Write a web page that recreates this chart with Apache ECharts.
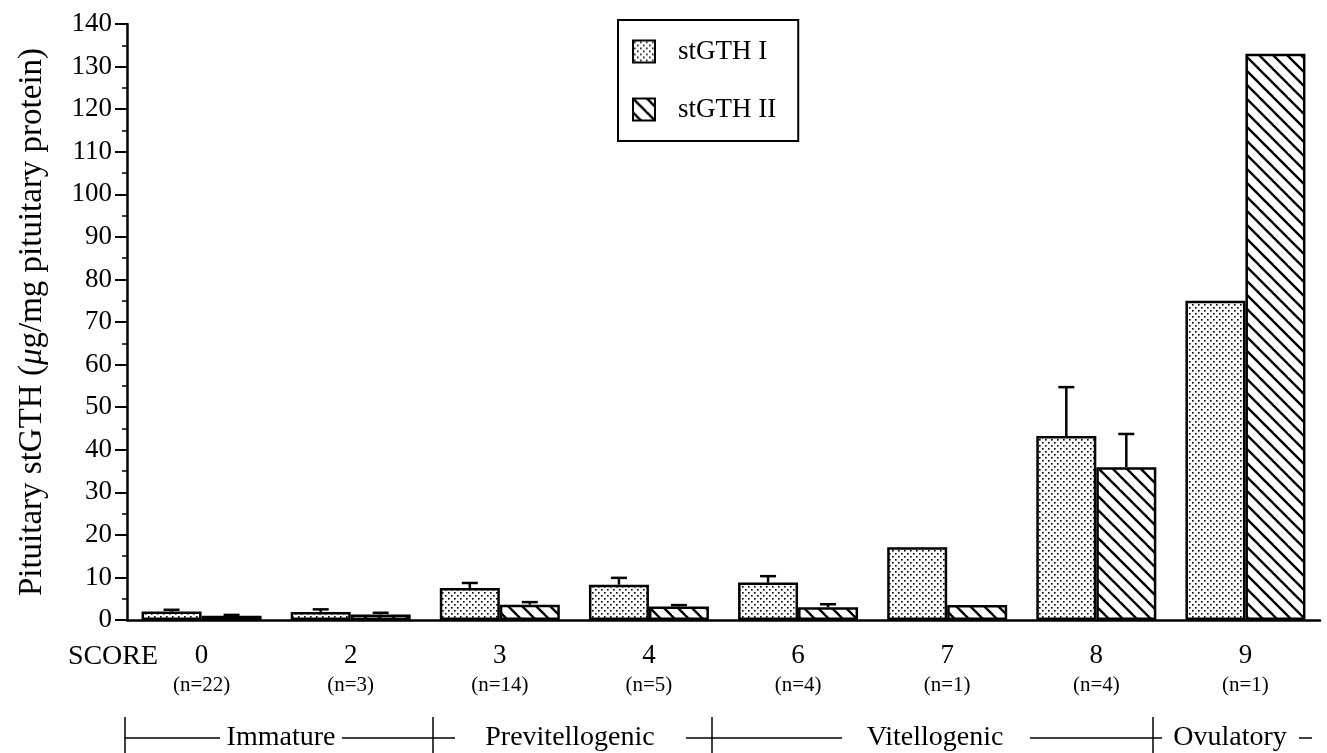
<!DOCTYPE html>
<html>
<head>
<meta charset="utf-8">
<script src="https://cdn.jsdelivr.net/npm/echarts@6/dist/echarts.min.js"></script>
<style>
  html, body { margin: 0; padding: 0; background: #fff; }
  #chart { width: 1327px; height: 753px; }
</style>
</head>
<body>
<div id="chart"></div>
<script>
// ---- data ----
const scores = ['0', '2', '3', '4', '6', '7', '8', '9'];
const nCounts = ['22', '3', '14', '5', '4', '1', '4', '1'];
const stgth1 = [2.0, 1.9, 7.5, 8.3, 8.8, 17.1, 43.2, 75.0];
const stgth1Err = [0.4, 0.6, 1.2, 1.6, 1.5, 0, 11.5, 0];
const stgth2 = [1.0, 1.3, 3.6, 3.2, 3.0, 3.5, 35.9, 133.0];
const stgth2Err = [0.2, 0.4, 0.6, 0.3, 0.7, 0, 7.8, 0];
const seriesNames = ['stGTH I', 'stGTH II'];
const stages = ['Immature', 'Previtellogenic', 'Vitellogenic', 'Ovulatory'];
const yMin = 0, yMax = 140, yStep = 10;

// ---- patterns ----
function stipple() {
  const c = document.createElement('canvas');
  c.width = 6; c.height = 6;
  const g = c.getContext('2d');
  g.fillStyle = '#fff'; g.fillRect(0, 0, 6, 6);
  g.fillStyle = '#000';
  g.fillRect(1, 1, 1.6, 1.6);
  g.fillRect(4, 4, 1.6, 1.6);
  return c;
}
function hatch() {
  const s = 14;
  const c = document.createElement('canvas');
  c.width = s; c.height = s;
  const g = c.getContext('2d');
  g.fillStyle = '#fff'; g.fillRect(0, 0, s, s);
  g.strokeStyle = '#000'; g.lineWidth = 2.4;
  for (let k = -1; k <= 1; k++) {
    g.beginPath();
    g.moveTo(k * s - 2, -2);
    g.lineTo(k * s + s + 2, s + 2);
    g.stroke();
  }
  return c;
}

const FONT = '"Liberation Serif", "Times New Roman", serif';
const BAR_W = 60;

function errData(vals, errs) {
  return vals.map((v, i) => [i, v, errs[i]]);
}
function errRender(sign) {
  return function (params, api) {
    const x = api.value(0), v = api.value(1), e = api.value(2);
    if (!e) return;
    const p0 = api.coord([x, v]);
    const p1 = api.coord([x, v + e]);
    const off = sign * BAR_W / 2;
    const cx = p0[0] + off;
    const st = { stroke: '#000', lineWidth: 2.5 };
    return {
      type: 'group',
      children: [
        { type: 'line', shape: { x1: cx, y1: p0[1], x2: cx, y2: p1[1] }, style: st },
        { type: 'line', shape: { x1: cx - 8, y1: p1[1], x2: cx + 8, y2: p1[1] }, style: st }
      ]
    };
  };
}

const chart = echarts.init(document.getElementById('chart'), null, { renderer: 'canvas' });

// stage annotation graphics (decorative, below axis)
const stageY = 738;
const lineStyle = { stroke: '#000', lineWidth: 1.5 };
const divStyle = { stroke: '#000', lineWidth: 1.5 };
const dividers = [125, 433, 712, 1153];
const graphics = [];
dividers.forEach(x => graphics.push({ type: 'line', shape: { x1: x, y1: 717, x2: x, y2: 753 }, style: divStyle }));
const stageSpecs = [
  { text: stages[0], cx: 281, segs: [[125, 220], [342, 433]] },
  { text: stages[1], cx: 570, segs: [[433, 455], [686, 712]] },
  { text: stages[2], cx: 935, segs: [[712, 842], [1030, 1153]] },
  { text: stages[3], cx: 1230, segs: [[1153, 1162], [1299, 1312]] }
];
stageSpecs.forEach(s => {
  graphics.push({ type: 'text', x: s.cx, y: stageY, style: { text: s.text, font: '28px ' + FONT, fill: '#000', textAlign: 'center', textVerticalAlign: 'middle' } });
  s.segs.forEach(g => graphics.push({ type: 'line', shape: { x1: g[0], y1: stageY, x2: g[1], y2: stageY }, style: lineStyle }));
});
graphics.push({ type: 'text', x: 113, y: 657, style: { text: 'SCORE', font: '28px ' + FONT, fill: '#000', textAlign: 'center', textVerticalAlign: 'middle' } });

const option = {
  animation: false,
  backgroundColor: '#fff',
  textStyle: { fontFamily: FONT, color: '#000' },
  grid: { left: 127, right: 7, top: 24, bottom: 133, containLabel: false },
  legend: {
    orient: 'vertical',
    left: 618, top: 20,
    borderColor: '#000', borderWidth: 2,
    padding: [18, 22, 18, 14],
    itemWidth: 22, itemHeight: 22, itemGap: 31,
    icon: 'rect',
    textStyle: { fontFamily: FONT, fontSize: 27, color: '#000', padding: [0, 0, 0, 18] },
    data: seriesNames
  },
  xAxis: {
    type: 'category',
    data: scores,
    axisLine: { lineStyle: { color: '#000', width: 2.5 } },
    axisTick: { show: false },
    axisLabel: {
      margin: 22,
      interval: 0,
      formatter: (v, i) => '{s|' + v + '}\n{n|(n=' + nCounts[i] + ')}',
      rich: {
        s: { fontFamily: FONT, fontSize: 27, lineHeight: 28, color: '#000' },
        n: { fontFamily: FONT, fontSize: 21, lineHeight: 30, color: '#000' }
      }
    }
  },
  yAxis: {
    type: 'value',
    min: yMin, max: yMax, interval: yStep,
    name: 'Pituitary stGTH ({i|μ}g/mg pituitary protein)',
    nameLocation: 'middle',
    nameRotate: 90,
    nameGap: 78,
    nameTextStyle: {
      fontFamily: FONT, fontSize: 33, color: '#000',
      rich: { i: { fontFamily: FONT, fontSize: 33, fontStyle: 'italic', color: '#000' } }
    },
    axisLine: { show: true, lineStyle: { color: '#000', width: 2.5 } },
    axisTick: { show: true, length: 12, lineStyle: { color: '#000', width: 2 } },
    minorTick: { show: true, splitNumber: 2, length: 5, lineStyle: { color: '#000', width: 1.5 } },
    splitLine: { show: false },
    axisLabel: { fontFamily: FONT, fontSize: 27, color: '#000', margin: 15 }
  },
  series: [
    {
      name: seriesNames[0], type: 'bar', data: stgth1, barWidth: BAR_W, barGap: '0%',
      itemStyle: { color: { image: stipple(), repeat: 'repeat' }, borderColor: '#000', borderWidth: 2.5 }
    },
    {
      name: seriesNames[1], type: 'bar', data: stgth2, barWidth: BAR_W, barGap: '0%',
      itemStyle: { color: { image: hatch(), repeat: 'repeat' }, borderColor: '#000', borderWidth: 2.5 }
    },
    { type: 'custom', renderItem: errRender(-1), data: errData(stgth1, stgth1Err), z: 5, silent: true },
    { type: 'custom', renderItem: errRender(1), data: errData(stgth2, stgth2Err), z: 5, silent: true }
  ],
  graphic: graphics
};
chart.setOption(option);
</script>
</body>
</html>
